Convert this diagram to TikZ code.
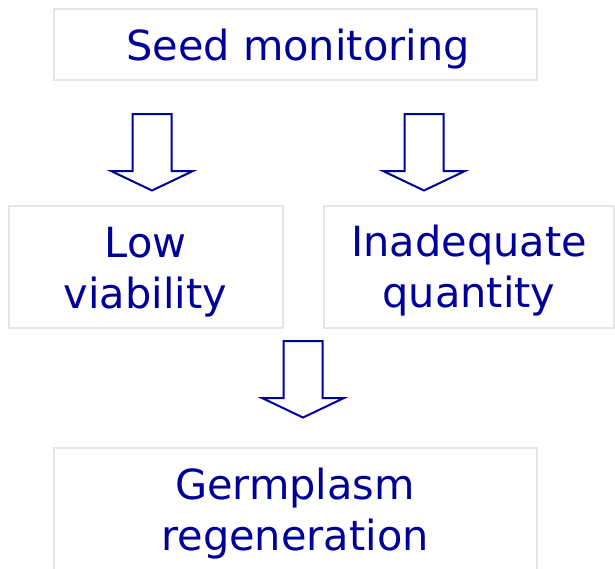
\documentclass[tikz,border=0pt]{standalone}
\usepackage{fontspec}
\setmainfont{DejaVu Sans}
\definecolor{txtblue}{HTML}{000099}
\definecolor{boxgray}{HTML}{E6E6E6}
\begin{document}
\begin{tikzpicture}[x=1pt,y=-1pt,
  box/.style={draw=boxgray, line width=2.8pt, fill=white},
  lbl/.style={text=txtblue, align=center, inner sep=0pt, anchor=base,
    font=\fontsize{41.5}{51}\selectfont},
  blockarrow/.style={draw=txtblue, line width=2pt, fill=white, line join=miter}]
\useasboundingbox (0,0) rectangle (615,568);
\clip (0,0) rectangle (615,568);
% boxes
\node[box, minimum width=483pt, minimum height=71pt, inner sep=0pt] (seed) at (295.5,44.5) {};
\node[box, minimum width=274pt, minimum height=122pt, inner sep=0pt] (low) at (146,267) {};
\node[box, minimum width=290pt, minimum height=122pt, inner sep=0pt] (inad) at (469,267) {};
\node[box, minimum width=483pt, minimum height=152pt, inner sep=0pt] (germ) at (295.5,524) {};
% texts (anchor base = baseline of the last line)
\node[lbl] (tseed) at (298,60) {Seed monitoring};
\node[lbl] (tlow) at (145.5,308) {Low\\viability};
\node[lbl] (tinad) at (469,307) {Inadequate\\quantity};
\node[lbl] (tgerm) at (295,550) {Germplasm\\regeneration};
% block arrows
\coordinate (a1) at (152,114);
\coordinate (a2) at (424,114);
\coordinate (a3) at (303,341);
\foreach \c in {a1,a2,a3}{
  \draw[blockarrow, shift={(\c)}] (-19.5,0) -- (19.5,0) -- (19.5,57) -- (41,57) -- (0,76.5) -- (-41,57) -- (-19.5,57) -- cycle;
}
\end{tikzpicture}
\end{document}
